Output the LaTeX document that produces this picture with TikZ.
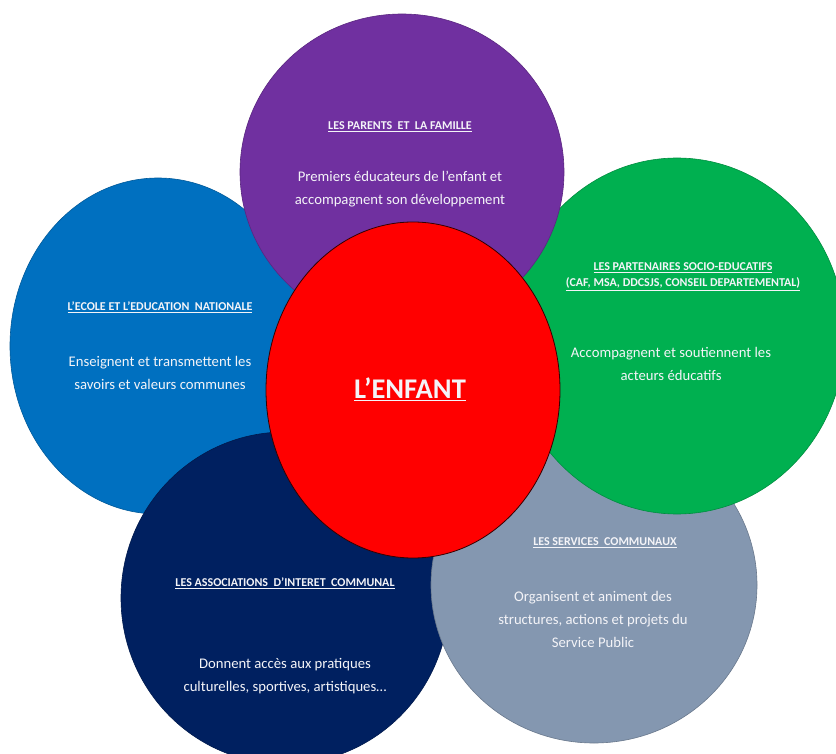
\documentclass[tikz,border=0pt]{standalone}
\usepackage{fontspec}
\setmainfont{Carlito}
\usetikzlibrary{shapes.geometric}
\definecolor{cpurple}{HTML}{7030A0}
\definecolor{cblue}{HTML}{0070C0}
\definecolor{cgreen}{HTML}{00B050}
\definecolor{cnavy}{HTML}{002060}
\definecolor{cgrey}{HTML}{8497B0}
\definecolor{cred}{HTML}{FF0000}
\definecolor{ctext}{HTML}{F4F4F8}
\newcommand{\ttl}[1]{\underline{#1}}
\tikzset{
  disc/.style={line width=0.6pt},
  titletext/.style={text=ctext, align=center, inner sep=0pt, font=\fontsize{12}{16}\selectfont\bfseries},
  bodytext/.style={text=ctext, align=center, inner sep=0pt, font=\fontsize{14.7}{23}\selectfont},
}
\begin{document}
\begin{tikzpicture}[x=1pt,y=-1pt]
\useasboundingbox (0,0) rectangle (836,754);
\fill[white] (0,0) rectangle (836,754);
\begin{scope}
\clip (0,0) rectangle (836,754);
% circles, back to front
\draw[disc, fill=cblue, draw=cblue!80!black] (158,346) ellipse [x radius=148, y radius=168];
\draw[disc, fill=cnavy, draw=cnavy!80!black] (285,598) ellipse [x radius=164, y radius=166];
\draw[disc, fill=cgrey, draw=cgrey!80!black] (594,585) ellipse [x radius=163, y radius=158];
\draw[disc, fill=cgreen, draw=cgreen!80!black] (677,336) ellipse [x radius=168, y radius=178];
\draw[disc, fill=cpurple, draw=cpurple!80!black] (402,172) ellipse [x radius=162, y radius=158];
\draw[line width=0.8pt, fill=cred, draw=black!80!red] (413,390) ellipse [x radius=147, y radius=168];
\end{scope}
% purple
\node[titletext] (tpur) at (400,127) {\ttl{LES PARENTS\ \ ET\ \ LA FAMILLE}};
\node[bodytext] (bpur) at (400,189) {Premiers éducateurs de l’enfant et\\accompagnent\ son développement};
% blue
\node[titletext] (tblu) at (160,307) {\ttl{L’ECOLE ET L’EDUCATION\ \ NATIONALE}};
\node[bodytext] (bblu) at (160,373) {Enseignent et transmettent\ les\\savoirs et valeurs communes};
% green
\node[titletext] (tgre1) at (683,268) {\ttl{LES PARTENAIRES SOCIO-EDUCATIFS}};
\node[titletext] (tgre2) at (683,284) {\ttl{(CAF, MSA, DDCSJS, CONSEIL DEPARTEMENTAL)}};
\node[bodytext] (bgre) at (671,364) {Accompagnent et soutiennent les\\acteurs éducatifs};
% red
\node[text=ctext, inner sep=0pt, font=\fontsize{28.5}{31}\selectfont\bfseries] (tred) at (410,389) {\ttl{L’ENFANT}};
% grey
\node[titletext] (tgry) at (605,543) {\ttl{LES SERVICES\ \ COMMUNAUX}};
\node[bodytext] (bgry) at (593,619) {Organisent et animent des\\structures, actions et projets du\\Service Public};
% navy
\node[titletext] (tnav) at (285,583) {\ttl{LES ASSOCIATIONS\ \ D’INTERET\ \ COMMUNAL}};
\node[bodytext] (bnav) at (285,676) {Donnent accès aux pratiques\\culturelles, sportives, artistiques…};
\end{tikzpicture}
\end{document}
